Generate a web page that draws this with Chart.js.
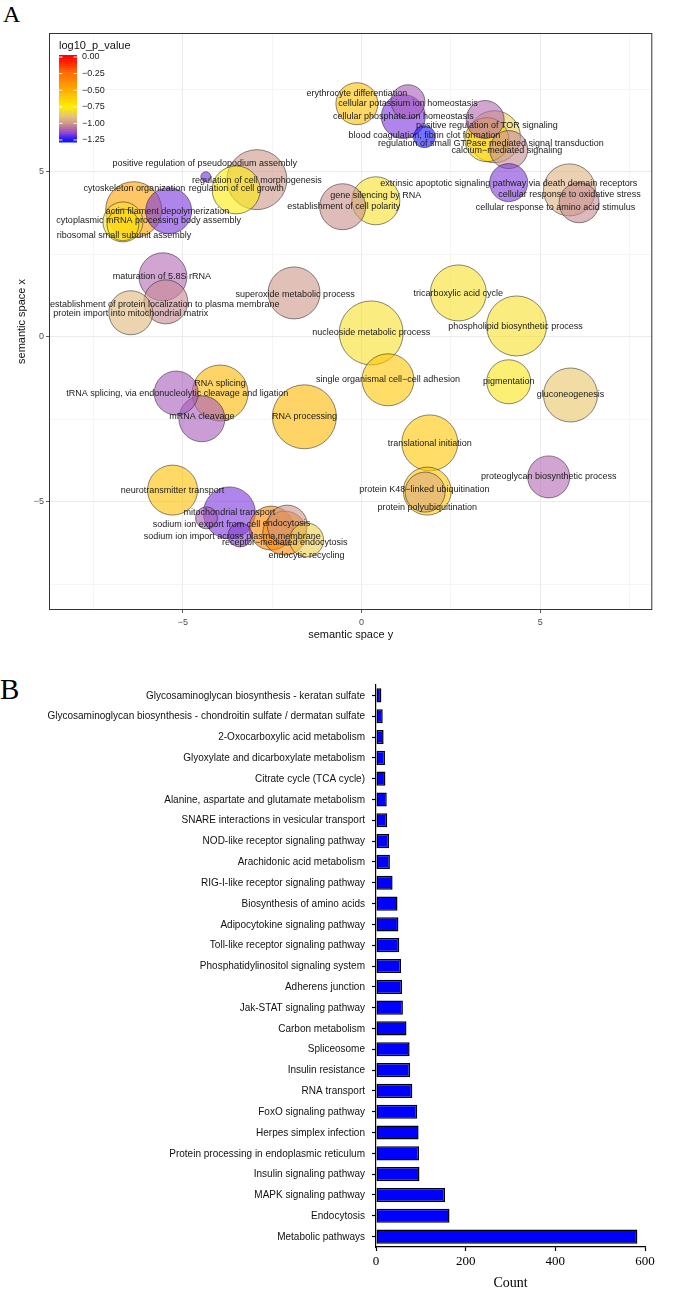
<!DOCTYPE html>
<html>
<head>
<meta charset="utf-8">
<script src="https://cdn.jsdelivr.net/npm/chart.js@4"></script>
<style>
  html, body { margin: 0; padding: 0; background: #fff; }
  body { width: 685px; height: 1290px; position: relative; overflow: hidden; }
  .panel { position: absolute; left: 0; width: 685px; }
  .letter { position: absolute; font-family: "Liberation Serif", "Times New Roman", serif; color: #000; line-height: 1; }
</style>
</head>
<body>
<div class="letter" style="left:3px; top:2px; font-size:24px;">A</div>
<div class="panel" style="top:0; height:650px;"><canvas id="chartA"></canvas></div>
<div class="letter" style="left:0px; top:675px; font-size:29px;">B</div>
<div class="panel" style="top:660px; height:630px;"><canvas id="chartB"></canvas></div>
<script>
// ---- panel A: REVIGO semantic space ----
const TERMS = [
  "positive regulation of pseudopodium assembly",
  "cytoskeleton organization",
  "actin filament depolymerization",
  "cytoplasmic mRNA processing body assembly",
  "ribosomal small subunit assembly",
  "regulation of cell growth",
  "regulation of cell morphogenesis",
  "maturation of 5.8S rRNA",
  "establishment of protein localization to plasma membrane",
  "protein import into mitochondrial matrix",
  "superoxide metabolic process",
  "erythrocyte differentiation",
  "cellular potassium ion homeostasis",
  "cellular phosphate ion homeostasis",
  "blood coagulation, fibrin clot formation",
  "positive regulation of TOR signaling",
  "regulation of small GTPase mediated signal transduction",
  "",
  "calcium\u2212mediated signaling",
  "extrinsic apoptotic signaling pathway via death domain receptors",
  "cellular response to oxidative stress",
  "cellular response to amino acid stimulus",
  "establishment of cell polarity",
  "gene silencing by RNA",
  "tricarboxylic acid cycle",
  "phospholipid biosynthetic process",
  "nucleoside metabolic process",
  "single organismal cell\u2212cell adhesion",
  "pigmentation",
  "gluconeogenesis",
  "translational initiation",
  "protein polyubiquitination",
  "protein K48\u2212linked ubiquitination",
  "proteoglycan biosynthetic process",
  "tRNA splicing, via endonucleolytic cleavage and ligation",
  "RNA splicing",
  "mRNA cleavage",
  "RNA processing",
  "neurotransmitter transport",
  "mitochondrial transport",
  "sodium ion export from cell",
  "sodium ion import across plasma membrane",
  "endocytosis",
  "receptor\u2212mediated endocytosis",
  "",
  "endocytic recycling"
];
// semantic space y (horizontal) and x (vertical)
const SEM_Y = [-4.36, -6.38, -5.40, -6.68, -6.68, -3.51, -2.93, -5.56, -5.48, -6.46, -1.89, -0.13, 1.30, 1.17, 1.76, 3.46, 3.51, 3.72, 4.12, 4.12, 5.82, 6.09, -0.53, 0.40, 2.71, 4.34, 0.27, 0.74, 4.12, 5.85, 1.91, 1.84, 1.78, 5.24, -5.19, -3.96, -4.47, -1.60, -5.29, -3.70, -4.34, -3.40, -2.53, -2.15, -2.08, -1.54];
const SEM_X = [4.85, 3.85, 3.82, 3.48, 3.39, 4.45, 4.76, 1.82, 1.06, 0.73, 1.33, 7.06, 7.12, 6.67, 6.06, 6.58, 5.97, 6.06, 5.67, 4.67, 4.45, 4.06, 3.94, 4.12, 1.33, 0.33, 0.12, -1.30, -1.36, -1.76, -3.21, -4.67, -4.70, -4.24, -1.70, -1.70, -2.48, -2.42, -4.64, -5.33, -5.48, -6.00, -5.79, -5.94, -5.70, -6.15];
const BUBBLE_SIZE = [5, 28, 23, 20, 16, 24, 30, 24, 22, 22, 26, 21, 17, 22, 11, 19, 22, 26, 19, 19, 26, 20, 23, 24, 28, 30, 32, 26, 22, 27, 28, 24, 20, 21, 22, 28, 23, 32, 25, 26, 11, 12, 22, 22, 20, 17];
const LOG10_P = [-1.18, -0.46, -1.17, -0.80, -0.68, -0.76, -1.00, -1.08, -1.02, -0.92, -1.00, -0.58, -1.10, -1.17, -1.25, -1.08, -0.66, -0.85, -1.02, -1.16, -0.93, -1.02, -1.01, -0.80, -0.80, -0.80, -0.80, -0.60, -0.78, -0.88, -0.60, -0.60, -0.95, -1.08, -1.10, -0.55, -1.10, -0.55, -0.58, -1.17, -1.10, -1.15, -0.35, -0.35, -1.00, -0.85];
// where each text label sits (repelled a little from its bubble)
const LABEL_Y = [-4.39, -6.36, -5.43, -5.96, -6.65, -3.51, -2.93, -5.59, -5.51, -6.46, -1.86, -0.13, 1.30, 1.17, 1.76, 3.51, 3.62, 0, 4.07, 4.12, 5.82, 5.43, -0.50, 0.40, 2.71, 4.31, 0.27, 0.74, 4.12, 5.85, 1.91, 1.84, 1.76, 5.24, -5.16, -3.96, -4.47, -1.60, -5.29, -3.70, -4.34, -3.62, -2.10, -2.15, 0, -1.54];
const LABEL_X = [5.24, 4.48, 3.79, 3.52, 3.06, 4.48, 4.73, 1.82, 0.97, 0.70, 1.27, 7.36, 7.06, 6.67, 6.09, 6.39, 5.85, 0, 5.64, 4.64, 4.30, 3.91, 3.94, 4.27, 1.30, 0.30, 0.12, -1.30, -1.36, -1.76, -3.24, -5.18, -4.61, -4.24, -1.73, -1.42, -2.42, -2.42, -4.64, -5.33, -5.67, -6.03, -5.64, -6.24, 0, -6.61];

const AXIS_TICKS = [-7.5, -5, -2.5, 0, 2.5, 5, 7.5];
const COLORBAR_TICKS = [0, -0.25, -0.5, -0.75, -1, -1.25];
const COLORBAR_LABELS = ["0.00", "\u22120.25", "\u22120.50", "\u22120.75", "\u22121.00", "\u22121.25"];

// ---- panel B: KEGG pathway counts ----
const PATHWAYS = [
  "Glycosaminoglycan biosynthesis - keratan sulfate",
  "Glycosaminoglycan biosynthesis - chondroitin sulfate / dermatan sulfate",
  "2-Oxocarboxylic acid metabolism",
  "Glyoxylate and dicarboxylate metabolism",
  "Citrate cycle (TCA cycle)",
  "Alanine, aspartate and glutamate metabolism",
  "SNARE interactions in vesicular transport",
  "NOD-like receptor signaling pathway",
  "Arachidonic acid metabolism",
  "RIG-I-like receptor signaling pathway",
  "Biosynthesis of amino acids",
  "Adipocytokine signaling pathway",
  "Toll-like receptor signaling pathway",
  "Phosphatidylinositol signaling system",
  "Adherens junction",
  "Jak-STAT signaling pathway",
  "Carbon metabolism",
  "Spliceosome",
  "Insulin resistance",
  "RNA transport",
  "FoxO signaling pathway",
  "Herpes simplex infection",
  "Protein processing in endoplasmic reticulum",
  "Insulin signaling pathway",
  "MAPK signaling pathway",
  "Endocytosis",
  "Metabolic pathways"
];
const COUNTS = [12, 15, 17, 20, 21, 24, 25, 29, 31, 37, 48, 50, 52, 56, 58, 60, 68, 75, 76, 81, 92, 95, 96, 97, 154, 164, 583];

// colour ramp of the log10 p-value scale
const RAMP = [
  [0, [255, 0, 0]],
  [-0.25, [255, 110, 0]],
  [-0.5, [255, 170, 0]],
  [-0.75, [255, 240, 0]],
  [-0.9, [228, 192, 120]],
  [-1.0, [205, 150, 135]],
  [-1.08, [178, 104, 178]],
  [-1.17, [122, 52, 222]],
  [-1.25, [20, 20, 255]]
];
function rampColor(v, a) {
  if (v >= RAMP[0][0]) return `rgba(${RAMP[0][1].join(',')},${a})`;
  for (let k = 1; k < RAMP.length; k++) {
    const [v1, c1] = RAMP[k];
    const [v0, c0] = RAMP[k - 1];
    if (v >= v1) {
      const t = (v0 - v) / (v0 - v1);
      const c = c0.map((ch, j) => Math.round(ch + (c1[j] - ch) * t));
      return `rgba(${c.join(',')},${a})`;
    }
  }
  return `rgba(${RAMP[RAMP.length - 1][1].join(',')},${a})`;
}
const fmt = v => (v < 0 ? '\u2212' : '') + Math.abs(v);

const order = TERMS.map((_, i) => i).sort((a, b) => BUBBLE_SIZE[b] - BUBBLE_SIZE[a]);

const revigoExtras = {
  id: 'revigoExtras',
  afterDatasetsDraw(chart) {
    const { ctx, scales: { x, y } } = chart;
    ctx.save();
    ctx.font = '9px "Liberation Sans", Arial, sans-serif';
    ctx.fillStyle = '#1a1a1a';
    ctx.textAlign = 'center';
    ctx.textBaseline = 'middle';
    TERMS.forEach((t, i) => {
      if (!t) return;
      ctx.fillText(t, x.getPixelForValue(LABEL_Y[i]), y.getPixelForValue(LABEL_X[i]));
    });
    ctx.restore();
  },
  afterDraw(chart) {
    const { ctx, chartArea: ca } = chart;
    ctx.save();
    ctx.strokeStyle = '#333';
    ctx.lineWidth = 1;
    ctx.strokeRect(ca.left + 0.5, ca.top + 0.5, ca.right - ca.left - 1, ca.bottom - ca.top - 1);

    // colour bar legend
    const bx = ca.left + 10, bw = 18;
    const y0 = ca.top + 24, perUnit = 66.4;
    const top = y0 - 0.03 * perUnit, bot = y0 + 1.28 * perUnit;
    const steps = 40;
    for (let s = 0; s < steps; s++) {
      const v = 0.03 - (1.31 * (s + 0.5)) / steps;
      ctx.fillStyle = rampColor(v, 1);
      const yy = top + ((bot - top) * s) / steps;
      ctx.fillRect(bx, yy, bw, (bot - top) / steps + 0.5);
    }
    ctx.font = '9px "Liberation Sans", Arial, sans-serif';
    ctx.textBaseline = 'middle';
    ctx.textAlign = 'left';
    COLORBAR_TICKS.forEach((v, k) => {
      const yy = y0 - v * perUnit;
      ctx.strokeStyle = 'rgba(255,255,255,0.9)';
      ctx.beginPath();
      ctx.moveTo(bx, yy); ctx.lineTo(bx + 3.5, yy);
      ctx.moveTo(bx + bw - 3.5, yy); ctx.lineTo(bx + bw, yy);
      ctx.stroke();
      ctx.fillStyle = '#222';
      ctx.fillText(COLORBAR_LABELS[k], bx + bw + 5, yy);
    });
    ctx.font = '11px "Liberation Sans", Arial, sans-serif';
    ctx.fillStyle = '#111';
    ctx.fillText('log10_p_value', bx, top - 9);
    ctx.restore();
  }
};

const gridColor = ctx => (ctx.tick && ctx.tick.value % 5 === 0 ? '#e6e6e6' : '#f3f3f3');
const tickMarkColor = ctx => (ctx.tick && ctx.tick.value % 5 === 0 ? '#333' : 'rgba(0,0,0,0)');

new Chart(document.getElementById('chartA'), {
  type: 'bubble',
  data: {
    datasets: [{
      data: order.map(i => ({ x: SEM_Y[i], y: SEM_X[i], r: BUBBLE_SIZE[i] })),
      backgroundColor: order.map(i => rampColor(LOG10_P[i], 0.6)),
      borderColor: 'rgba(30,30,30,0.75)',
      borderWidth: 0.7
    }]
  },
  options: {
    responsive: true,
    maintainAspectRatio: false,
    animation: false,
    events: [],
    layout: { padding: { top: 33, right: 1, left: 0, bottom: 0 } },
    plugins: { legend: { display: false }, tooltip: { enabled: false } },
    scales: {
      x: {
        type: 'linear', min: -8.75, max: 8.14,
        afterBuildTicks: s => { s.ticks = AXIS_TICKS.map(v => ({ value: v })); },
        afterFit: s => { s.height = 40; },
        ticks: {
          autoSkip: false, maxRotation: 0, padding: 4, color: '#4d4d4d',
          font: { family: '"Liberation Sans", Arial, sans-serif', size: 9 },
          callback: v => (v % 5 === 0 ? fmt(v) : '')
        },
        grid: { color: gridColor, tickColor: tickMarkColor, tickLength: 3, lineWidth: 0.8 },
        border: { display: false },
        title: {
          display: true, text: 'semantic space y', color: '#111',
          font: { family: '"Liberation Sans", Arial, sans-serif', size: 11 },
          padding: { top: 0, bottom: 8 }
        }
      },
      y: {
        type: 'linear', min: -8.27, max: 9.2,
        afterBuildTicks: s => { s.ticks = AXIS_TICKS.map(v => ({ value: v })); },
        afterFit: s => { s.width = 49; },
        ticks: {
          autoSkip: false, padding: 2, color: '#4d4d4d',
          font: { family: '"Liberation Sans", Arial, sans-serif', size: 9 },
          callback: v => (v % 5 === 0 ? fmt(v) : '')
        },
        grid: { color: gridColor, tickColor: tickMarkColor, tickLength: 3, lineWidth: 0.8 },
        border: { display: false },
        title: {
          display: true, text: 'semantic space x', color: '#111',
          font: { family: '"Liberation Sans", Arial, sans-serif', size: 11 },
          padding: { top: 15, bottom: 0 }
        }
      }
    }
  },
  plugins: [revigoExtras]
});

// condensed category labels (the original uses a narrow sans face)
const narrowLabels = {
  id: 'narrowLabels',
  afterDraw(chart) {
    const { ctx } = chart;
    const y = chart.scales.y;
    ctx.save();
    ctx.font = '11.5px "Liberation Sans", Arial, sans-serif';
    ctx.fillStyle = '#111';
    ctx.textAlign = 'right';
    ctx.textBaseline = 'middle';
    const right = y.right - 11;
    PATHWAYS.forEach((name, i) => {
      const py = y.getPixelForValue(i);
      ctx.save();
      ctx.translate(right, py);
      ctx.scale(0.87, 1);
      ctx.fillText(name, 0, 0);
      ctx.restore();
    });
    ctx.restore();
  }
};

new Chart(document.getElementById('chartB'), {
  type: 'bar',
  data: {
    labels: PATHWAYS,
    datasets: [{
      data: COUNTS,
      backgroundColor: '#0000ff',
      borderColor: '#000',
      borderWidth: 1.5,
      borderSkipped: false,
      barPercentage: 0.68,
      categoryPercentage: 1
    }]
  },
  options: {
    indexAxis: 'y',
    responsive: true,
    maintainAspectRatio: false,
    animation: false,
    events: [],
    layout: { padding: { top: 25, right: 40, left: 0, bottom: 0 } },
    plugins: { legend: { display: false }, tooltip: { enabled: false } },
    scales: {
      x: {
        min: 0, max: 600,
        afterFit: s => { s.height = 43; },
        ticks: {
          stepSize: 200, padding: 3, color: '#000',
          font: { family: '"Liberation Serif", "Times New Roman", serif', size: 13 }
        },
        grid: { drawOnChartArea: false, drawTicks: true, tickLength: 4, tickColor: '#000', tickWidth: 1.2 },
        border: { display: true, color: '#000', width: 1.2 },
        title: {
          display: true, text: 'Count', color: '#000',
          font: { family: '"Liberation Serif", "Times New Roman", serif', size: 14, lineHeight: 1 },
          padding: { top: 0, bottom: 0 }
        }
      },
      y: {
        afterFit: s => { s.width = 376; },
        ticks: { display: false },
        grid: { offset: false, drawOnChartArea: false, drawTicks: true, tickLength: 4, tickColor: '#000', tickWidth: 1.2 },
        border: { display: true, color: '#000', width: 1.2 }
      }
    }
  },
  plugins: [narrowLabels]
});
</script>
</body>
</html>
